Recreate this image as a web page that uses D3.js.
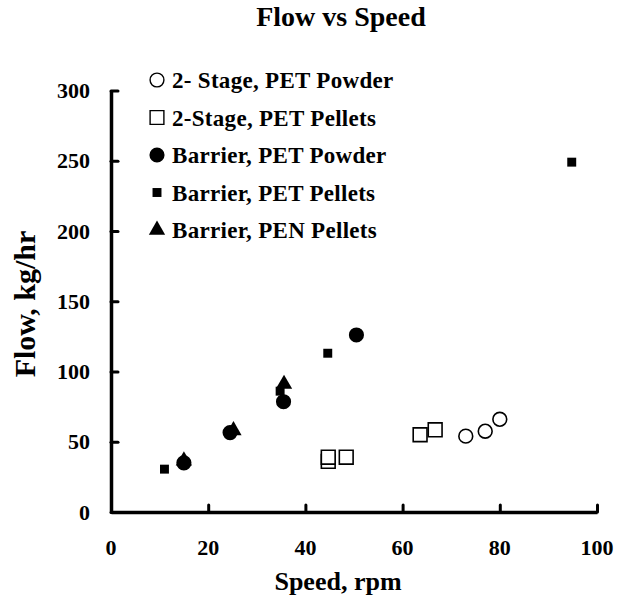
<!DOCTYPE html>
<html>
<head>
<meta charset="utf-8">
<script src="https://cdn.jsdelivr.net/npm/d3@7"></script>
<style>
  html, body { margin: 0; padding: 0; background: #fff; }
  svg text { font-family: "Liberation Serif", "Times New Roman", serif; font-weight: bold; fill: #000; }
</style>
</head>
<body>
<svg id="chart" width="617" height="610"></svg>
<script>
// Series values (speed rpm, flow kg/hr)
var twoStagePowderSpeed = [73, 77, 80];
var twoStagePowderFlow = [54, 57.5, 66];
var twoStagePelletsSpeed = [44.7, 44.7, 48.4, 63.6, 66.7];
var twoStagePelletsFlow = [36, 39, 39, 55, 58.5];
var barrierPowderSpeed = [15, 24.5, 35.5, 50.5];
var barrierPowderFlow = [35, 56.5, 78.5, 126];
var barrierPelletsSpeed = [11, 15, 24.8, 34.8, 44.6, 94.8];
var barrierPelletsFlow = [30.5, 34, 57, 86, 113, 249];
var penPelletsSpeed = [15, 25.2, 35.6];
var penPelletsFlow = [36.5, 58, 91];

var seriesNames = ["2- Stage, PET Powder", "2-Stage, PET Pellets", "Barrier, PET Powder", "Barrier, PET Pellets", "Barrier, PEN Pellets"];
var xTicks = [0, 20, 40, 60, 80, 100];
var yTicks = [0, 50, 100, 150, 200, 250, 300];

var zip = function(xs, ys) {
  return xs.map(function(x, i) { return { x: x, y: ys[i] }; });
};

// Marker style for each series
var series = [
  { name: seriesNames[0], values: zip(twoStagePowderSpeed, twoStagePowderFlow), type: d3.symbolCircle, size: 150, open: true },
  { name: seriesNames[1], values: zip(twoStagePelletsSpeed, twoStagePelletsFlow), type: d3.symbolSquare, size: 190, open: true },
  { name: seriesNames[2], values: zip(barrierPowderSpeed, barrierPowderFlow), type: d3.symbolCircle, size: 180, open: false },
  { name: seriesNames[3], values: zip(barrierPelletsSpeed, barrierPelletsFlow), type: d3.symbolSquare, size: 80, open: false },
  { name: seriesNames[4], values: zip(penPelletsSpeed, penPelletsFlow), type: d3.symbolTriangle, size: 115, open: false }
];

var svg = d3.select("#chart");

var xScale = d3.scaleLinear().domain([0, 100]).range([111, 597]);
var yScale = d3.scaleLinear().domain([0, 300]).range([512, 90.5]);

// Title
svg.append("text")
  .attr("x", 341).attr("y", 26)
  .attr("text-anchor", "middle")
  .style("font-size", "28px")
  .text("Flow vs Speed");

// Axes, ticks pointing inward
var xAxis = d3.axisTop(xScale).tickValues(xTicks).tickSize(7).tickFormat("");
var yAxis = d3.axisRight(yScale).tickValues(yTicks).tickSize(7).tickFormat("");

var styleAxis = function(g) {
  g.select(".domain").attr("stroke", "#000").attr("stroke-width", 3.5);
  g.selectAll(".tick line").attr("stroke", "#000").attr("stroke-width", 3).attr("stroke-linecap", "round");
};

svg.append("g")
  .attr("transform", "translate(0," + yScale(0) + ")")
  .call(xAxis.tickSizeOuter(0))
  .call(styleAxis);

svg.append("g")
  .attr("transform", "translate(" + xScale(0) + ",0)")
  .call(yAxis.tickSizeOuter(0))
  .call(styleAxis);

// Tick labels
svg.append("g").selectAll("text")
  .data(xTicks)
  .enter()
  .append("text")
  .attr("x", function(d) { return xScale(d); })
  .attr("y", 555)
  .attr("text-anchor", "middle")
  .style("font-size", "22px")
  .text(function(d) { return d; });

svg.append("g").selectAll("text")
  .data(yTicks)
  .enter()
  .append("text")
  .attr("x", 90)
  .attr("y", function(d) { return yScale(d); })
  .attr("dy", "0.35em")
  .attr("text-anchor", "end")
  .style("font-size", "22px")
  .text(function(d) { return d; });

// Axis titles
svg.append("text")
  .attr("x", 338).attr("y", 590)
  .attr("text-anchor", "middle")
  .style("font-size", "26px")
  .text("Speed, rpm");

svg.append("text")
  .attr("transform", "translate(35,304) rotate(-90)")
  .attr("text-anchor", "middle")
  .style("font-size", "30px")
  .text("Flow, kg/hr");

// Points
var groups = svg.append("g").selectAll(".series")
  .data(series)
  .enter()
  .append("g")
  .classed("series", true);

groups.selectAll("path")
  .data(function(d) { return d.values.map(function(v) { return { s: d, v: v }; }); })
  .enter()
  .append("path")
  .attr("transform", function(d) { return "translate(" + xScale(d.v.x) + "," + yScale(d.v.y) + ")"; })
  .attr("d", function(d) { return d3.symbol().type(d.s.type).size(d.s.size)(); })
  .attr("fill", function(d) { return d.s.open ? "#fff" : "#000"; })
  .attr("stroke", "#000")
  .attr("stroke-width", function(d) { return d.s.open ? 1.6 : 0; });

// Legend
var legend = svg.append("g").selectAll(".legend")
  .data(series)
  .enter()
  .append("g")
  .classed("legend", true)
  .attr("transform", function(d, i) { return "translate(157," + (80 + i * 37.5) + ")"; });

legend.append("path")
  .attr("d", function(d) { return d3.symbol().type(d.type).size(d.size)(); })
  .attr("fill", function(d) { return d.open ? "#fff" : "#000"; })
  .attr("stroke", "#000")
  .attr("stroke-width", function(d) { return d.open ? 1.4 : 0; });

legend.append("text")
  .attr("x", 15)
  .attr("dy", "0.35em")
  .style("font-size", "23px")
  .style("letter-spacing", "0.3px")
  .text(function(d) { return d.name; });
</script>
</body>
</html>
